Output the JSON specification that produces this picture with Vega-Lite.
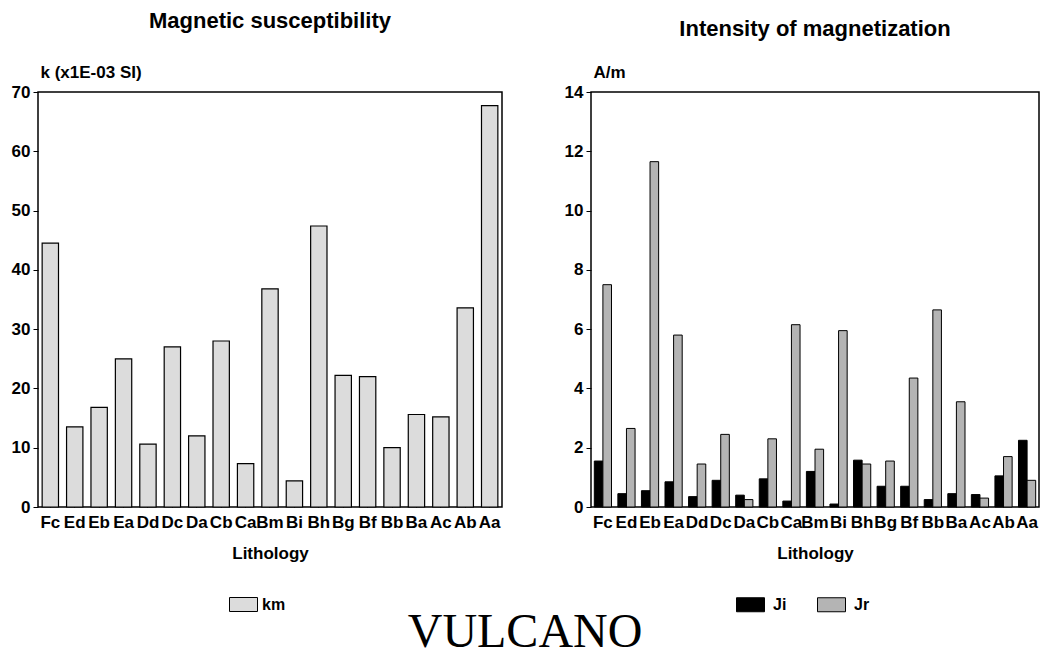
{
  "$schema": "https://vega.github.io/schema/vega-lite/v6.json",
  "background": "white",
  "padding": {"left": 10, "top": 9, "right": 0, "bottom": 0},
  "config": {
    "font": "Liberation Sans",
    "view": {"stroke": "black", "strokeWidth": 1.5},
    "axis": {"labelFont": "Liberation Sans", "labelFontWeight": "bold", "labelFontSize": 17, "labelColor": "black", "titleFont": "Liberation Sans", "titleFontWeight": "bold", "titleFontSize": 17, "titleColor": "black", "grid": false, "domain": false, "tickColor": "black"},
    "legend": {"labelFont": "Liberation Sans", "labelFontWeight": "bold", "labelFontSize": 16, "labelColor": "black"},
    "title": {"font": "Liberation Sans", "fontWeight": "bold", "fontSize": 22, "color": "black"}
  },
  "title": {"text": "VULCANO", "orient": "bottom", "anchor": "middle", "font": "Liberation Serif", "fontWeight": "normal", "fontSize": 48, "color": "black", "offset": -6},
  "datasets": {
    "km": [
      {"lith": "Fc", "series": "km", "value": 44.5},
      {"lith": "Ed", "series": "km", "value": 13.5},
      {"lith": "Eb", "series": "km", "value": 16.8},
      {"lith": "Ea", "series": "km", "value": 25.0},
      {"lith": "Dd", "series": "km", "value": 10.6},
      {"lith": "Dc", "series": "km", "value": 27.0},
      {"lith": "Da", "series": "km", "value": 12.0},
      {"lith": "Cb", "series": "km", "value": 28.0},
      {"lith": "Ca", "series": "km", "value": 7.3},
      {"lith": "Bm", "series": "km", "value": 36.8},
      {"lith": "Bi", "series": "km", "value": 4.4},
      {"lith": "Bh", "series": "km", "value": 47.4},
      {"lith": "Bg", "series": "km", "value": 22.2},
      {"lith": "Bf", "series": "km", "value": 22.0},
      {"lith": "Bb", "series": "km", "value": 10.0},
      {"lith": "Ba", "series": "km", "value": 15.6},
      {"lith": "Ac", "series": "km", "value": 15.2},
      {"lith": "Ab", "series": "km", "value": 33.6},
      {"lith": "Aa", "series": "km", "value": 67.7}
    ],
    "j": [
      {"lith": "Fc", "series": "Ji", "value": 1.55}, {"lith": "Fc", "series": "Jr", "value": 7.5},
      {"lith": "Ed", "series": "Ji", "value": 0.45}, {"lith": "Ed", "series": "Jr", "value": 2.65},
      {"lith": "Eb", "series": "Ji", "value": 0.55}, {"lith": "Eb", "series": "Jr", "value": 11.65},
      {"lith": "Ea", "series": "Ji", "value": 0.85}, {"lith": "Ea", "series": "Jr", "value": 5.8},
      {"lith": "Dd", "series": "Ji", "value": 0.35}, {"lith": "Dd", "series": "Jr", "value": 1.45},
      {"lith": "Dc", "series": "Ji", "value": 0.9}, {"lith": "Dc", "series": "Jr", "value": 2.45},
      {"lith": "Da", "series": "Ji", "value": 0.4}, {"lith": "Da", "series": "Jr", "value": 0.25},
      {"lith": "Cb", "series": "Ji", "value": 0.95}, {"lith": "Cb", "series": "Jr", "value": 2.3},
      {"lith": "Ca", "series": "Ji", "value": 0.2}, {"lith": "Ca", "series": "Jr", "value": 6.15},
      {"lith": "Bm", "series": "Ji", "value": 1.2}, {"lith": "Bm", "series": "Jr", "value": 1.95},
      {"lith": "Bi", "series": "Ji", "value": 0.1}, {"lith": "Bi", "series": "Jr", "value": 5.95},
      {"lith": "Bh", "series": "Ji", "value": 1.58}, {"lith": "Bh", "series": "Jr", "value": 1.45},
      {"lith": "Bg", "series": "Ji", "value": 0.7}, {"lith": "Bg", "series": "Jr", "value": 1.55},
      {"lith": "Bf", "series": "Ji", "value": 0.7}, {"lith": "Bf", "series": "Jr", "value": 4.35},
      {"lith": "Bb", "series": "Ji", "value": 0.25}, {"lith": "Bb", "series": "Jr", "value": 6.65},
      {"lith": "Ba", "series": "Ji", "value": 0.45}, {"lith": "Ba", "series": "Jr", "value": 3.55},
      {"lith": "Ac", "series": "Ji", "value": 0.42}, {"lith": "Ac", "series": "Jr", "value": 0.3},
      {"lith": "Ab", "series": "Ji", "value": 1.05}, {"lith": "Ab", "series": "Jr", "value": 1.7},
      {"lith": "Aa", "series": "Ji", "value": 2.25}, {"lith": "Aa", "series": "Jr", "value": 0.9}
    ]
  },
  "spacing": 60,
  "resolve": {"scale": {"color": "independent", "x": "independent", "y": "independent"}, "legend": {"color": "independent"}},
  "hconcat": [
    {
      "width": 464,
      "height": 415,
      "title": {"text": "Magnetic susceptibility", "offset": 30},
      "data": {"name": "km"},
      "mark": {"type": "bar", "stroke": "black", "strokeWidth": 1.2},
      "encoding": {
        "x": {"field": "lith", "type": "nominal", "sort": null, "scale": {"paddingInner": 0.33, "paddingOuter": 0.17},
          "axis": {"title": "Lithology", "labelAngle": 0, "labelPadding": 12, "tickSize": -5, "titlePadding": 15}},
        "y": {"field": "value", "type": "quantitative", "scale": {"domain": [0, 70]},
          "axis": {"values": [0, 10, 20, 30, 40, 50, 60, 70], "title": "k (x1E-03 SI)", "titleAngle": 0, "titleAlign": "left", "titleBaseline": "bottom", "titleX": 2, "titleY": -11, "tickSize": 5, "labelPadding": 3}},
        "color": {"field": "series", "type": "nominal", "scale": {"range": ["#dcdcdc"]},
          "legend": {"title": null, "orient": "none", "legendX": 191, "legendY": 498, "symbolType": "M-1,-0.5H1V0.5H-1Z", "symbolSize": 784, "symbolStrokeColor": "black", "symbolStrokeWidth": 1, "symbolOpacity": 1}}
      }
    },
    {
      "width": 448,
      "height": 415,
      "title": {"text": "Intensity of magnetization", "offset": 22},
      "data": {"name": "j"},
      "mark": {"type": "bar", "stroke": "black", "strokeWidth": 1},
      "encoding": {
        "x": {"field": "lith", "type": "nominal", "sort": null, "scale": {"paddingInner": 0.27, "paddingOuter": 0.14},
          "axis": {"title": "Lithology", "labelAngle": 0, "labelPadding": 12, "tickSize": -5, "titlePadding": 15}},
        "xOffset": {"field": "series", "type": "nominal", "scale": {"paddingInner": 0}},
        "y": {"field": "value", "type": "quantitative", "scale": {"domain": [0, 14]},
          "axis": {"values": [0, 2, 4, 6, 8, 10, 12, 14], "title": "A/m", "titleAngle": 0, "titleAlign": "left", "titleBaseline": "bottom", "titleX": 2, "titleY": -11, "tickSize": 5, "labelPadding": 3}},
        "color": {"field": "series", "type": "nominal", "scale": {"domain": ["Ji", "Jr"], "range": ["#000000", "#b4b4b4"]},
          "legend": {"title": null, "orient": "none", "direction": "horizontal", "legendX": 145, "legendY": 498, "columnPadding": 28, "labelOffset": 8, "symbolType": "M-1,-0.5H1V0.5H-1Z", "symbolSize": 784, "symbolStrokeColor": "black", "symbolStrokeWidth": 1, "symbolOpacity": 1}}
      }
    }
  ]
}
